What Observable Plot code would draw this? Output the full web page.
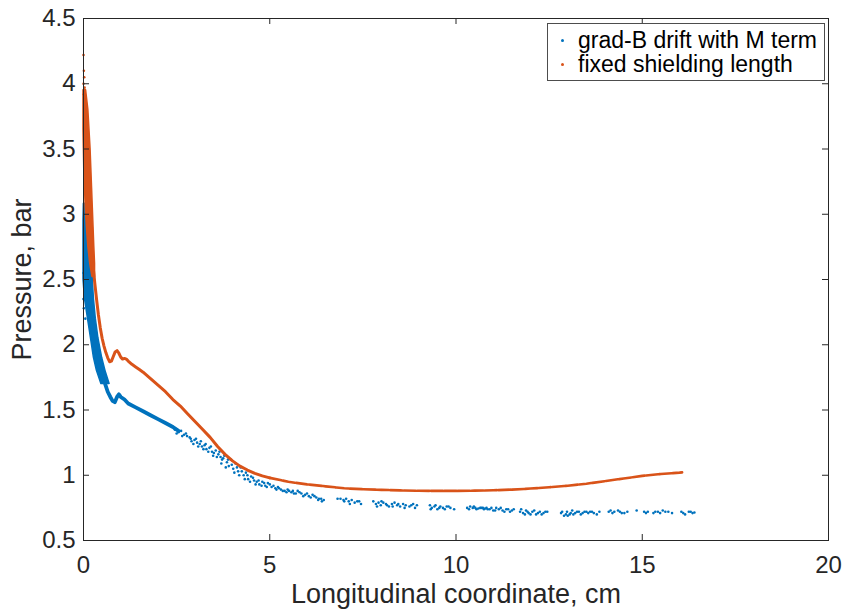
<!DOCTYPE html>
<html><head><meta charset="utf-8">
<script src="https://cdn.jsdelivr.net/npm/d3@7"></script>
<script src="https://cdn.jsdelivr.net/npm/@observablehq/plot@0.6"></script>
<style>
body{margin:0;background:#fff;font-family:"Liberation Sans",Arial,sans-serif;}
#wrap{position:relative;width:844px;height:613px;}
#legend{position:absolute;left:547px;top:23px;width:278px;height:58px;box-sizing:border-box;border:1px solid #4d4d4d;background:#fff;font-size:23px;line-height:24px;padding-top:4px;color:#000;}
.row{position:relative;padding-left:30px;white-space:nowrap;}
.dot{position:absolute;left:13px;top:11px;width:3px;height:3px;border-radius:50%;}
</style></head>
<body>
<div id="wrap"></div>
<script>
const xTicks = [0, 5, 10, 15, 20];
const yTicks = [0.5, 1, 1.5, 2, 2.5, 3, 3.5, 4, 4.5];
const seriesNames = ["grad-B drift with M term", "fixed shielding length"];
const seriesColors = ["#0072BD", "#D95319"];

// orange ("fixed shielding length"): dense band near x = 0
const orangeBandY     = [3.95, 3.80, 3.65, 3.50, 3.35, 3.20, 3.05, 2.90, 2.75, 2.62, 2.52];
const orangeBandLeft  = [0.00, 0.00, 0.00, 0.01, 0.02, 0.04, 0.06, 0.09, 0.13, 0.18, 0.24];
const orangeBandRight = [0.07, 0.13, 0.16, 0.19, 0.21, 0.23, 0.25, 0.27, 0.29, 0.31, 0.31];
const orangeStrayX = [0.00, 0.01, 0.02, 0.00, 0.03, 0.01, 0.04];
const orangeStrayY = [4.22, 4.10, 4.05, 4.00, 3.97, 3.92, 3.88];
// orange main curve
const orangeX = [0.25, 0.28, 0.30, 0.35, 0.40, 0.45, 0.50, 0.55, 0.60, 0.65, 0.70, 0.75, 0.80, 0.85, 0.90, 0.95, 1.00, 1.05, 1.10, 1.15, 1.20, 1.30, 1.40, 1.50, 1.60, 1.80, 2.00, 2.20, 2.40, 2.60, 2.80, 3.00, 3.20, 3.40, 3.60, 3.80, 4.00, 4.20, 4.40, 4.60, 4.80, 5.00, 5.50, 6.00, 6.50, 7.00, 7.50, 8.00, 8.50, 9.00, 9.50, 10.00, 10.50, 11.00, 11.50, 12.00, 12.50, 13.00, 13.50, 14.00, 14.50, 15.00, 15.50, 16.00, 16.07];
const orangeY = [2.62, 2.54, 2.48, 2.35, 2.23, 2.13, 2.05, 1.99, 1.94, 1.90, 1.87, 1.875, 1.91, 1.945, 1.955, 1.935, 1.905, 1.89, 1.895, 1.89, 1.875, 1.85, 1.83, 1.81, 1.79, 1.74, 1.69, 1.64, 1.58, 1.53, 1.47, 1.41, 1.35, 1.29, 1.22, 1.16, 1.11, 1.07, 1.04, 1.015, 0.995, 0.98, 0.95, 0.93, 0.915, 0.90, 0.893, 0.888, 0.884, 0.881, 0.880, 0.880, 0.882, 0.885, 0.890, 0.898, 0.908, 0.920, 0.935, 0.955, 0.975, 0.995, 1.010, 1.020, 1.022];

// blue ("grad-B drift with M term"): dense band near x = 0
const blueBandY     = [3.08, 2.95, 2.80, 2.65, 2.50, 2.35, 2.20, 2.05, 1.90, 1.80, 1.70];
const blueBandLeft  = [0.01, 0.00, 0.00, 0.00, 0.00, 0.04, 0.12, 0.20, 0.28, 0.36, 0.48];
const blueBandRight = [0.07, 0.14, 0.18, 0.22, 0.25, 0.28, 0.33, 0.40, 0.50, 0.59, 0.70];
const blueStrayX = [0.00, 0.01, 0.02, 0.00, 0.03, 0.05, 0.10];
const blueStrayY = [2.35, 2.28, 2.45, 2.55, 3.02, 2.20, 2.30];
// blue dense curve
const blueLineX = [0.58, 0.65, 0.72, 0.78, 0.84, 0.90, 0.95, 1.00, 1.10, 1.20, 1.40, 1.60, 1.80, 2.00, 2.20, 2.40, 2.55];
const blueLineY = [1.70, 1.64, 1.60, 1.57, 1.56, 1.60, 1.62, 1.60, 1.58, 1.55, 1.52, 1.49, 1.46, 1.43, 1.40, 1.37, 1.34];
// blue scattered points
const blueX = [2.45, 2.55, 2.62, 2.70, 2.78, 2.85, 2.90, 2.98, 3.05, 3.12, 3.18, 3.25, 3.30, 3.38, 3.45, 3.50, 3.55, 3.62, 3.68, 3.72, 3.78, 3.85, 3.90, 3.95, 4.02, 4.08, 4.15, 4.22, 4.30, 4.36, 4.42, 4.50, 4.58, 4.65, 4.72, 4.80, 4.88, 4.95, 5.05, 5.15, 5.22, 5.30, 5.40, 5.48, 5.58, 5.65, 5.75, 5.85, 5.95, 6.05, 6.15, 6.25, 6.32, 6.40, 6.45, 6.82, 6.90, 6.98, 7.05, 7.12, 7.20, 7.28, 7.35, 7.45, 7.78, 7.85, 7.92, 7.98, 8.05, 8.12, 8.20, 8.28, 8.35, 8.42, 8.50, 8.58, 8.65, 8.75, 8.85, 8.95, 9.30, 9.35, 9.42, 9.50, 9.58, 9.65, 9.75, 9.85, 9.95, 10.30, 10.38, 10.45, 10.52, 10.60, 10.68, 10.75, 10.82, 10.90, 11.00, 11.08, 11.15, 11.25, 11.35, 11.45, 11.55, 11.72, 11.80, 11.88, 11.95, 12.05, 12.15, 12.25, 12.35, 12.45, 12.82, 12.90, 12.98, 13.05, 13.12, 13.20, 13.30, 13.40, 13.50, 13.60, 13.70, 13.85, 14.10, 14.20, 14.35, 14.45, 14.60, 14.85, 15.05, 15.15, 15.30, 15.42, 15.55, 15.70, 15.80, 16.05, 16.15, 16.25, 16.35,
  2.50, 2.65, 2.75, 2.88, 2.95, 3.02, 3.08, 3.15, 3.22, 3.28, 3.35, 3.42, 3.48, 3.58, 3.65, 3.70, 3.75, 3.82, 3.88, 3.98, 4.05, 4.12, 4.18, 4.25, 4.33, 4.40, 4.47, 4.55, 4.62, 4.70, 4.78, 4.85, 4.92, 5.00, 5.10, 5.18, 5.25, 5.35, 5.45, 5.52, 5.62, 5.70, 5.80, 5.90, 6.00, 6.10, 6.20, 6.30, 6.38,
  7.00, 7.15, 7.40, 7.88, 8.00, 8.15, 8.30, 8.45, 8.62, 8.80, 8.90, 9.32, 9.45, 9.55, 9.70, 9.80, 10.35, 10.48, 10.55, 10.65, 10.72, 10.78, 10.85, 10.95, 11.05, 11.20, 11.30, 11.40, 11.50, 11.75, 11.85, 11.92, 12.00, 12.10, 12.20, 12.30, 12.40, 12.85, 12.95, 13.00, 13.08, 13.15, 13.25, 13.35, 13.45, 13.55, 13.65, 13.78, 14.15, 14.25, 14.40, 14.52, 15.10, 15.35, 15.48, 15.62, 16.10, 16.30, 16.40];
const blueY = [1.35, 1.33, 1.34, 1.31, 1.30, 1.29, 1.26, 1.27, 1.25, 1.24, 1.22, 1.23, 1.20, 1.21, 1.18, 1.17, 1.19, 1.16, 1.14, 1.12, 1.15, 1.10, 1.07, 1.12, 1.05, 1.09, 1.03, 1.06, 1.00, 1.02, 0.97, 0.99, 0.96, 0.95, 0.93, 0.95, 0.92, 0.94, 0.91, 0.90, 0.91, 0.89, 0.88, 0.89, 0.87, 0.86, 0.88, 0.86, 0.85, 0.84, 0.85, 0.83, 0.82, 0.80, 0.81, 0.82, 0.82, 0.81, 0.82, 0.80, 0.81, 0.79, 0.80, 0.78, 0.80, 0.78, 0.79, 0.77, 0.79, 0.78, 0.76, 0.78, 0.79, 0.77, 0.76, 0.78, 0.77, 0.76, 0.78, 0.77, 0.77, 0.75, 0.76, 0.74, 0.76, 0.75, 0.76, 0.75, 0.74, 0.75, 0.76, 0.75, 0.75, 0.745, 0.75, 0.74, 0.75, 0.74, 0.73, 0.75, 0.74, 0.73, 0.74, 0.72, 0.74, 0.72, 0.71, 0.73, 0.71, 0.72, 0.70, 0.72, 0.71, 0.72, 0.71, 0.69, 0.72, 0.70, 0.73, 0.71, 0.72, 0.71, 0.72, 0.72, 0.71, 0.72, 0.72, 0.71, 0.73, 0.71, 0.72, 0.73, 0.72, 0.72, 0.71, 0.72, 0.73, 0.72, 0.71, 0.72, 0.70, 0.72, 0.71,
  1.32, 1.30, 1.32, 1.28, 1.24, 1.28, 1.22, 1.26, 1.20, 1.24, 1.18, 1.22, 1.15, 1.14, 1.18, 1.09, 1.13, 1.06, 1.12, 1.08, 1.02, 1.06, 1.00, 1.03, 0.97, 1.00, 0.95, 0.98, 0.93, 0.96, 0.92, 0.94, 0.91, 0.93, 0.92, 0.89, 0.90, 0.88, 0.87, 0.88, 0.88, 0.86, 0.87, 0.84, 0.86, 0.83, 0.84, 0.81, 0.82,
  0.80, 0.78, 0.80, 0.76, 0.80, 0.77, 0.76, 0.78, 0.75, 0.77, 0.75, 0.74, 0.77, 0.75, 0.74, 0.76, 0.74, 0.76, 0.74, 0.75, 0.75, 0.745, 0.74, 0.75, 0.73, 0.75, 0.72, 0.74, 0.73, 0.74, 0.70, 0.72, 0.70, 0.73, 0.71, 0.70, 0.72, 0.72, 0.70, 0.69, 0.71, 0.70, 0.72, 0.70, 0.72, 0.71, 0.72, 0.70, 0.73, 0.72, 0.72, 0.71, 0.71, 0.72, 0.71, 0.72, 0.71, 0.72, 0.715];

const zip = (xs, ys) => xs.map((x, i) => ({x, y: ys[i]}));
const band = (ys, l, r) => ys.map((y, i) => ({y, x1: l[i], x2: r[i]}));

const W = 844, H = 613, mL = 83, mR = 16, mT = 18, mB = 73;
const innerW = W - mL - mR, innerH = H - mT - mB, tk = 6;
const blue = seriesColors[0], orange = seriesColors[1];
const orangeRows = zip(orangeX, orangeY);

const chart = Plot.plot({
  width: W, height: H,
  marginLeft: mL, marginRight: mR, marginTop: mT, marginBottom: mB,
  style: {fontFamily: "'Liberation Sans', Arial, sans-serif", fontSize: "24px", color: "#262626", background: "white", overflow: "visible"},
  x: {domain: [0, 20]},
  y: {domain: [0.5, 4.5]},
  marks: [
    Plot.axisX({ticks: xTicks, tickSize: 0, tickPadding: 15, label: null, tickFormat: d => String(d), fontSize: 24}),
    Plot.axisY({ticks: yTicks, tickSize: 0, tickPadding: 8, label: null, tickFormat: d => String(d), fontSize: 24}),
    // blue series
    Plot.areaX(band(blueBandY, blueBandLeft, blueBandRight), {y: "y", x1: "x1", x2: "x2", fill: blue, stroke: blue, strokeWidth: 1.5}),
    Plot.line(zip(blueLineX, blueLineY), {x: "x", y: "y", stroke: blue, strokeWidth: 3.8}),
    Plot.dot(zip(blueX, blueY), {x: "x", y: "y", r: 1.3, fill: blue}),
    Plot.dot(zip(blueStrayX, blueStrayY), {x: "x", y: "y", r: 1.3, fill: blue}),
    // orange series
    Plot.areaX(band(orangeBandY, orangeBandLeft, orangeBandRight), {y: "y", x1: "x1", x2: "x2", fill: orange, stroke: orange, strokeWidth: 1.5}),
    Plot.line(orangeRows.filter(d => d.x <= 5), {x: "x", y: "y", stroke: orange, strokeWidth: 3}),
    Plot.line(orangeRows.filter(d => d.x >= 5), {x: "x", y: "y", stroke: orange, strokeWidth: 2.6, strokeDasharray: "12,1.5"}),
    Plot.dot(zip(orangeStrayX, orangeStrayY), {x: "x", y: "y", r: 1.3, fill: orange}),
    // box and inward ticks
    Plot.frame({stroke: "#262626", strokeWidth: 1}),
    Plot.tickX(xTicks, {x: d => d, insetTop: innerH - tk, stroke: "#262626"}),
    Plot.tickX(xTicks, {x: d => d, insetBottom: innerH - tk, stroke: "#262626"}),
    Plot.tickY(yTicks, {y: d => d, insetRight: innerW - tk, stroke: "#262626"}),
    Plot.tickY(yTicks, {y: d => d, insetLeft: innerW - tk, stroke: "#262626"}),
    // axis titles
    Plot.text(["Longitudinal coordinate, cm"], {frameAnchor: "bottom", dy: 54, fontSize: 27, textAnchor: "middle", lineAnchor: "middle", fill: "#262626"}),
    Plot.text(["Pressure, bar"], {frameAnchor: "left", dx: -61, rotate: -90, fontSize: 27, textAnchor: "middle", lineAnchor: "middle", fill: "#262626"})
  ]
});

const wrap = document.getElementById("wrap");
wrap.appendChild(chart);
const lg = document.createElement("div");
lg.id = "legend";
seriesNames.forEach((name, i) => {
  const row = document.createElement("div");
  row.className = "row";
  const dot = document.createElement("span");
  dot.className = "dot";
  dot.style.background = seriesColors[i];
  row.appendChild(dot);
  row.appendChild(document.createTextNode(name));
  lg.appendChild(row);
});
wrap.appendChild(lg);
</script>
</body></html>
